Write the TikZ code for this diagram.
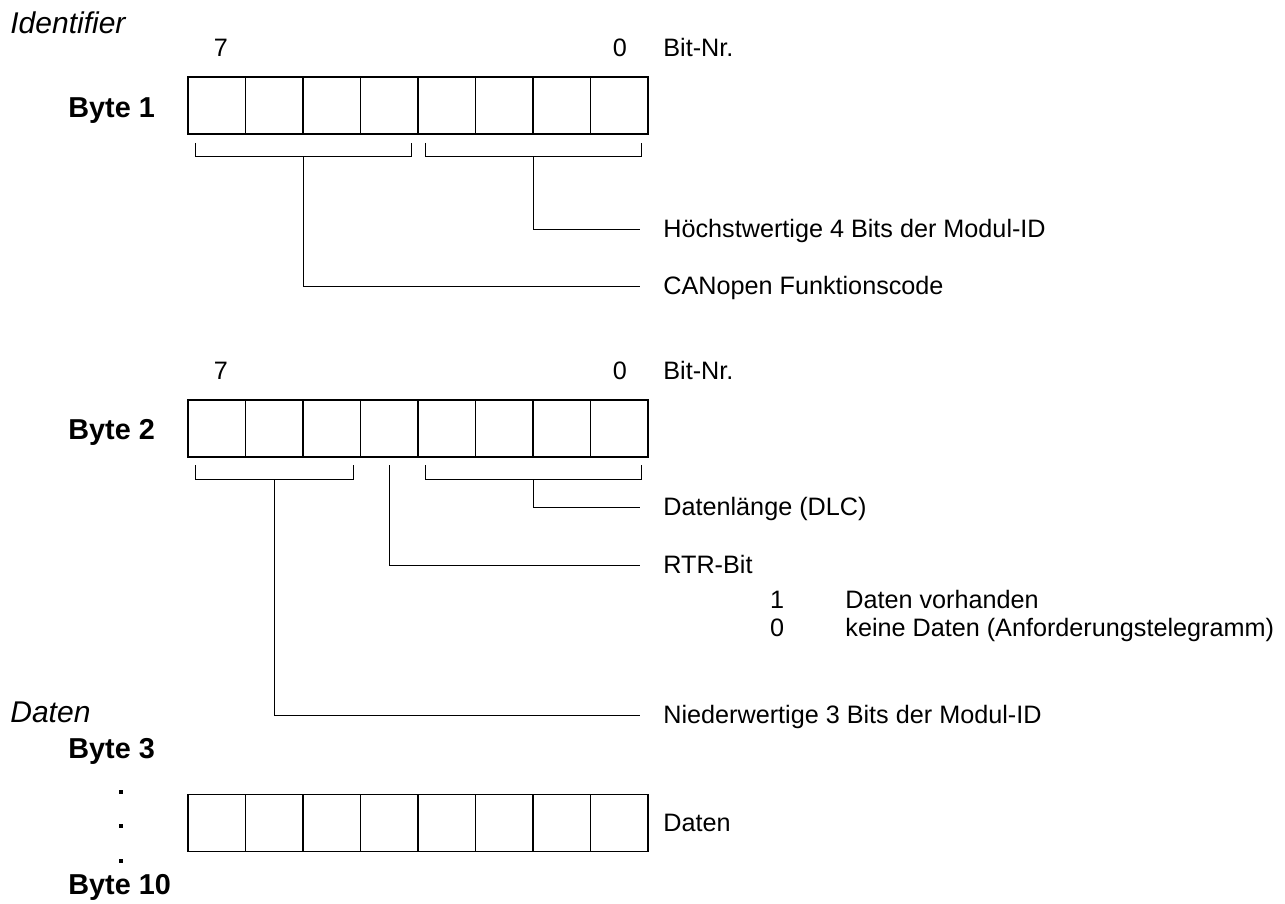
\documentclass[tikz,border=0pt]{standalone}
\usepackage{fontspec}
\setmainfont{Liberation Sans}
\begin{document}
\begin{tikzpicture}[x=0.5pt,y=-0.5pt,
  cell/.style={draw,line width=0.6pt,minimum width=28.75pt,minimum height=28.5pt,inner sep=0pt,outer sep=0pt},
  conn/.style={line width=0.5pt},
  lab/.style={font=\fontsize{12.6}{14}\selectfont,inner sep=0pt,anchor=base west},
  num/.style={font=\fontsize{12.6}{14}\selectfont,inner sep=0pt,anchor=base},
  sect/.style={font=\fontsize{15}{17}\selectfont\itshape,inner sep=0pt,anchor=base west},
  bytel/.style={font=\fontsize{14.4}{16}\selectfont\bfseries,inner sep=0pt,anchor=base west},
  dot/.style={fill=black,inner sep=0pt,minimum size=2pt}]
\useasboundingbox (0,0) rectangle (1285,904);
% section labels
\node[sect] (ident) at (10,34) {Identifier};
\node[sect] (daten) at (10,722) {Daten};
% Byte 1
\node[num] (b1hi) at (221,57) {7};
\node[num] (b1lo) at (620,57) {0};
\node[lab] (b1bit) at (663,57) {Bit-Nr.};
\node[bytel] (byte1) at (68,118) {Byte 1};
\foreach \i in {1,...,8}{\node[cell] (a\i) at ({188+57.5*(\i-0.5)},105.5) {};}
% Byte 1 brackets
\coordinate (a1l) at (195,143); \coordinate (a1r) at (411,143);
\coordinate (a2l) at (425,143); \coordinate (a2r) at (641,143);
\draw[conn] (a1l) |- (a1r |- 0,157) -- (a1r);
\draw[conn] (a2l) |- (a2r |- 0,157) -- (a2r);
\coordinate (s1) at (303,157); \coordinate (s2) at (533,157);
\coordinate (e1) at (640,286); \coordinate (e2) at (640,229);
\draw[conn] (s2) |- (e2);
\draw[conn] (s1) |- (e1);
\node[lab] (hoech) at (663,237) {Höchstwertige 4 Bits der Modul-ID};
\node[lab] (canopen) at (663,294) {CANopen Funktionscode};
% Byte 2
\node[num] (b2hi) at (221,379) {7};
\node[num] (b2lo) at (620,379) {0};
\node[lab] (b2bit) at (663,379) {Bit-Nr.};
\node[bytel] (byte2) at (68,439) {Byte 2};
\foreach \i in {1,...,8}{\node[cell] (b\i) at ({188+57.5*(\i-0.5)},428.5) {};}
\coordinate (b1l) at (195,465); \coordinate (b1r) at (353,465);
\coordinate (b2l) at (425,465); \coordinate (b2r) at (641,465);
\draw[conn] (b1l) |- (b1r |- 0,479) -- (b1r);
\draw[conn] (b2l) |- (b2r |- 0,479) -- (b2r);
\coordinate (t1) at (274,479); \coordinate (t2) at (533,479);
\coordinate (rtr) at (389.25,465);
\coordinate (f1) at (640,715); \coordinate (f2) at (640,507); \coordinate (f3) at (640,565);
\draw[conn] (t2) |- (f2);
\draw[conn] (rtr) |- (f3);
\draw[conn] (t1) |- (f1);
\node[lab] (dlc) at (663,515) {Datenlänge (DLC)};
\node[lab] (rtrl) at (663,573) {RTR-Bit};
\node[num] (one) at (777,608) {1};
\node[lab] (vorh) at (845,608) {Daten vorhanden};
\node[num] (zero) at (777,636) {0};
\node[lab] (keine) at (845,636) {keine Daten (Anforderungstelegramm)};
\node[lab] (nieder) at (663,723) {Niederwertige 3 Bits der Modul-ID};
% Byte 3..10
\node[bytel] (byte3) at (68,758) {Byte 3};
\node[dot] (d1) at (121,792) {};
\node[dot] (d2) at (121,826) {};
\node[dot] (d3) at (121,861) {};
\node[bytel] (byte10) at (68,894) {Byte 10};
\foreach \i in {1,...,8}{\node[cell] (c\i) at ({188+57.5*(\i-0.5)},823) {};}
\node[lab] (datr) at (663,831) {Daten};
\end{tikzpicture}
\end{document}
